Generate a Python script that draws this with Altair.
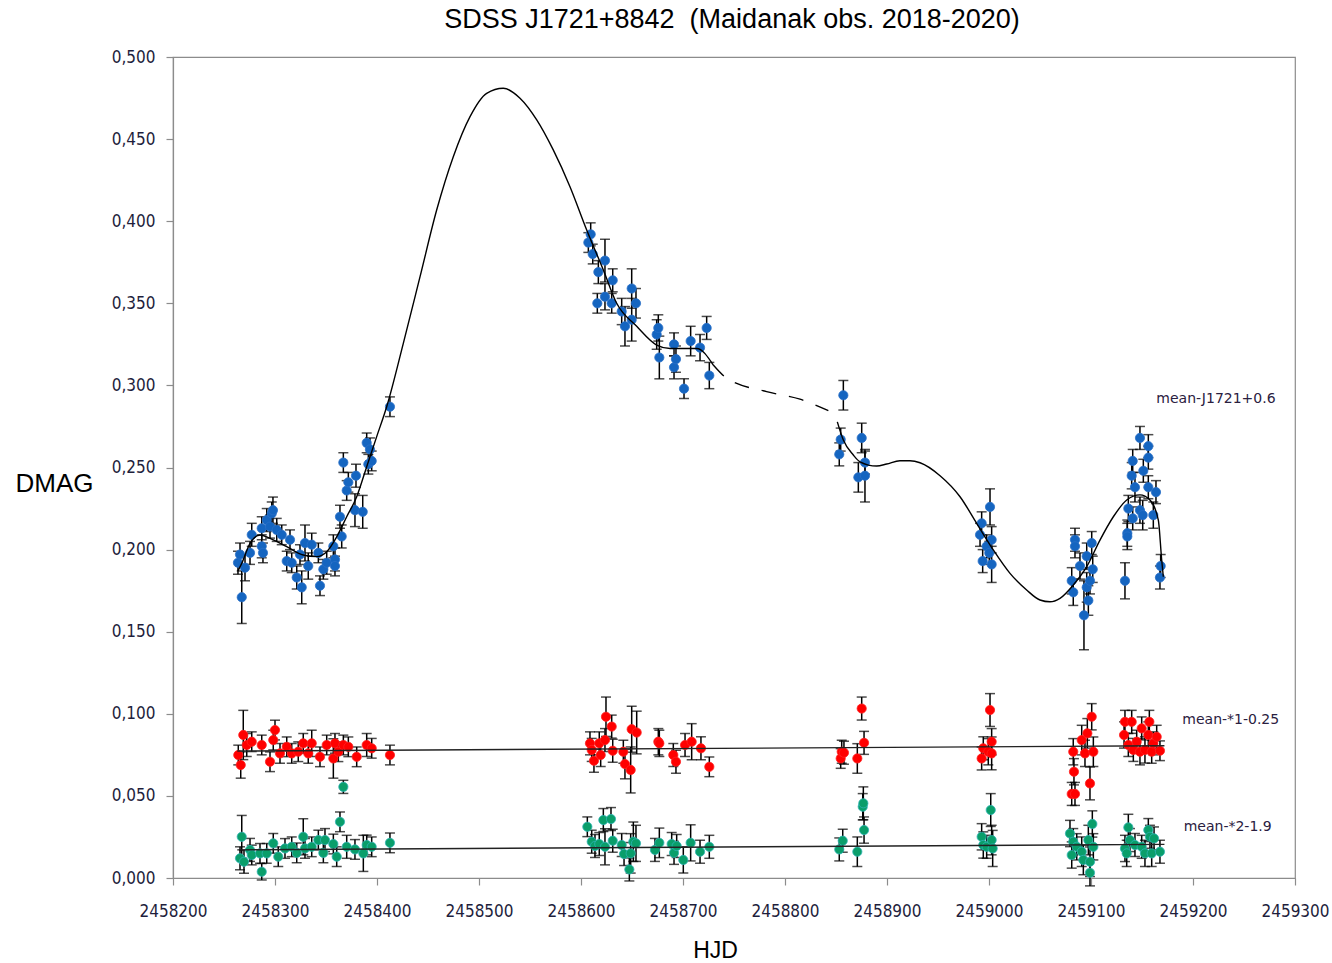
import altair as alt
import pandas as pd

BASE = 2458200  # HJD offset used by the day arrays below

# ---------------- main object (mean-J1721+0.6), blue ----------------
blue_day = [63.7, 65.7, 67.4, 70.6, 75.5, 77.2, 87.0, 87.0, 88.2, 91.9, 95.1, 96.8, 98.0, 101.7, 106.6,
            111.5, 114.7, 116.4, 121.3, 124.5, 126.2, 129.4, 132.6, 136.0, 142.5, 144.1, 147.4, 150.7,
            157.2, 158.8, 158.8, 163.7, 165.4, 167.0, 170.3, 171.9, 178.4, 179.4, 186.0, 189.9, 191.5,
            193.1, 194.8, 212.7,
            407.2, 409.5, 411.5, 416.0, 417.0, 423.5, 423.5, 430.1, 431.1, 439.9, 443.1, 449.7, 449.7,
            453.9, 474.2, 475.8, 476.8, 491.2, 491.2, 493.1, 501.0, 507.5, 516.7, 523.2, 525.8,
            653.2, 654.6, 657.2, 671.9, 675.2, 678.4, 678.4,
            791.2, 792.8, 793.8, 797.7, 800.3, 801.0, 802.6, 802.6,
            881.1, 882.6, 884.3, 884.3, 889.2, 893.1, 895.8, 895.8, 897.4, 899.0, 900.7, 901.7,
            933.3, 935.6, 935.6, 936.6, 939.9, 940.9, 940.9, 943.1, 948.0, 948.0, 950.7, 951.3, 956.2,
            956.2, 956.2, 961.1, 963.7, 967.6, 968.3]
blue_dmag = [0.192, 0.197, 0.171, 0.189, 0.198, 0.209, 0.202, 0.213, 0.198, 0.218, 0.214, 0.222, 0.224, 0.212, 0.209,
             0.193, 0.206, 0.192, 0.183, 0.197, 0.177, 0.204, 0.190, 0.203, 0.198, 0.178, 0.188, 0.192,
             0.202, 0.194, 0.190, 0.220, 0.208, 0.253, 0.236, 0.241, 0.224, 0.245, 0.223, 0.265, 0.252,
             0.261, 0.254, 0.287,
             0.387, 0.392, 0.380, 0.350, 0.369, 0.376, 0.354, 0.350, 0.364, 0.345, 0.336, 0.359, 0.340,
             0.350, 0.331, 0.335, 0.317, 0.325, 0.311, 0.316, 0.298, 0.327, 0.323, 0.335, 0.306,
             0.258, 0.267, 0.294, 0.244, 0.268, 0.253, 0.245,
             0.209, 0.216, 0.193, 0.202, 0.198, 0.226, 0.206, 0.191,
             0.181, 0.174, 0.206, 0.202, 0.190, 0.160, 0.196, 0.177, 0.169, 0.181, 0.204, 0.188,
             0.181, 0.210, 0.208, 0.225, 0.245, 0.254, 0.219, 0.238, 0.268, 0.224, 0.221, 0.248, 0.263,
             0.256, 0.238, 0.221, 0.235, 0.183, 0.190]
blue_err = [0.007, 0.007, 0.016, 0.008, 0.007, 0.007, 0.007, 0.007, 0.006, 0.007, 0.007, 0.007, 0.008, 0.007, 0.006,
            0.006, 0.006, 0.006, 0.007, 0.006, 0.010, 0.011, 0.008, 0.007, 0.006, 0.006, 0.006, 0.007,
            0.007, 0.007, 0.006, 0.007, 0.007, 0.006, 0.006, 0.006, 0.010, 0.007, 0.010, 0.006, 0.006,
            0.007, 0.006, 0.006,
            0.006, 0.007, 0.006, 0.006, 0.007, 0.013, 0.008, 0.006, 0.007, 0.008, 0.012, 0.012, 0.013,
            0.009, 0.009, 0.008, 0.013, 0.007, 0.007, 0.008, 0.006, 0.009, 0.008, 0.007, 0.008,
            0.007, 0.007, 0.009, 0.009, 0.009, 0.007, 0.016,
            0.007, 0.007, 0.007, 0.007, 0.007, 0.011, 0.008, 0.011,
            0.008, 0.008, 0.007, 0.007, 0.008, 0.021, 0.008, 0.009, 0.009, 0.008, 0.007, 0.008,
            0.011, 0.008, 0.008, 0.008, 0.008, 0.007, 0.007, 0.009, 0.007, 0.008, 0.009, 0.007, 0.007,
            0.007, 0.007, 0.008, 0.007, 0.007, 0.007]

# ---------------- comparison star 1 (mean-*1-0.25), red ----------------
red_day = [64.0, 66.4, 68.9, 72.3, 77.2, 87.0, 95.1, 98.3, 100.0, 104.9, 111.5, 116.4, 122.8, 127.7,
           132.6, 136.0, 144.1, 150.7, 157.2, 158.8, 162.1, 167.0, 171.9, 180.1, 189.9, 194.8, 212.7,
           408.8, 410.5, 412.7, 417.9, 419.3, 423.5, 424.5, 430.1, 431.1, 441.5, 443.1, 448.7, 449.7,
           454.6, 475.8, 476.8, 490.5, 493.1, 502.0, 508.5, 517.6, 525.8,
           654.6, 655.6, 657.8, 670.9, 675.2, 677.5,
           792.8, 794.4, 799.3, 801.0, 802.6, 802.6,
           881.1, 882.6, 883.3, 884.3, 890.9, 894.1, 896.4, 899.0, 900.7, 902.3,
           932.4, 933.3, 936.6, 939.9, 941.5, 944.8, 948.0, 949.7, 952.9, 956.2, 957.2, 959.5, 961.1,
           964.4, 967.6]
red_dmag = [0.0749, 0.0688, 0.0871, 0.0810, 0.0830, 0.0810, 0.0708, 0.0840, 0.0901, 0.0759, 0.0799, 0.0759, 0.0769, 0.0820,
            0.0759, 0.0820, 0.0738, 0.0810, 0.0728, 0.0820, 0.0769, 0.0810, 0.0799, 0.0738, 0.0810, 0.0790, 0.0749,
            0.0820, 0.0780, 0.0714, 0.0820, 0.0749, 0.0840, 0.0982, 0.0922, 0.0775, 0.0769, 0.0694, 0.0658, 0.0906,
            0.0886, 0.0830, 0.0820, 0.0749, 0.0708, 0.0810, 0.0830, 0.0790, 0.0677,
            0.0728, 0.0769, 0.0763, 0.0728, 0.1032, 0.0823,
            0.0728, 0.0790, 0.0769, 0.1023, 0.0830, 0.0759,
            0.0512, 0.0769, 0.0647, 0.0512, 0.0840, 0.0759, 0.0881, 0.0576, 0.0982, 0.0769,
            0.0871, 0.0951, 0.0810, 0.0951, 0.0780, 0.0830, 0.0769, 0.0911, 0.0780, 0.0871, 0.0951, 0.0769, 0.0820,
            0.0860, 0.0775]
red_err = [0.006, 0.008, 0.015, 0.007, 0.006, 0.006, 0.006, 0.006, 0.006, 0.006, 0.006, 0.006, 0.006, 0.006,
           0.006, 0.008, 0.006, 0.006, 0.012, 0.006, 0.006, 0.006, 0.006, 0.006, 0.007, 0.006, 0.006,
           0.007, 0.007, 0.007, 0.007, 0.007, 0.007, 0.012, 0.007, 0.007, 0.007, 0.009, 0.014, 0.014,
           0.013, 0.008, 0.008, 0.007, 0.007, 0.007, 0.011, 0.007, 0.006,
           0.006, 0.007, 0.007, 0.009, 0.007, 0.007,
           0.007, 0.007, 0.008, 0.010, 0.008, 0.010,
           0.007, 0.008, 0.008, 0.007, 0.009, 0.008, 0.009, 0.010, 0.008, 0.009,
           0.008, 0.007, 0.007, 0.007, 0.007, 0.007, 0.008, 0.007, 0.008, 0.008, 0.007, 0.007, 0.007,
           0.007, 0.006]

# ---------------- comparison star 2 (mean-*2-1.9), green ----------------
green_day = [65.7, 67.4, 69.6, 75.5, 77.2, 85.3, 87.0, 91.9, 98.3, 103.2, 109.8, 116.4, 121.3, 127.7,
             129.4, 136.0, 142.5, 147.4, 149.0, 157.2, 160.5, 163.7, 167.0, 170.3, 178.4, 186.6, 189.9,
             194.8, 212.7,
             406.2, 410.5, 413.7, 417.9, 421.9, 423.5, 429.4, 431.1, 439.9, 442.2, 447.4, 448.7, 451.3,
             453.9, 472.5, 476.8, 488.9, 491.2, 493.8, 500.3, 507.5, 516.7, 525.8,
             653.2, 656.6, 670.9, 676.2, 676.8, 677.5,
             792.8, 794.4, 797.7, 801.7, 802.6, 803.6,
             879.4, 881.1, 882.6, 886.0, 890.9, 892.5, 897.4, 899.0, 899.0, 901.3, 902.3,
             933.3, 935.0, 936.6, 938.2, 943.1, 949.7, 952.9, 956.2, 957.8, 959.5, 961.8, 967.6]
green_dmag = [0.0120, 0.0251, 0.0099, 0.0171, 0.0140, 0.0150, 0.0038, 0.0150, 0.0211, 0.0130, 0.0180, 0.0190, 0.0153, 0.0251,
              0.0180, 0.0190, 0.0231, 0.0153, 0.0231, 0.0207, 0.0130, 0.0342, 0.0555, 0.0190, 0.0174, 0.0150, 0.0201,
              0.0190, 0.0214,
              0.0312, 0.0221, 0.0195, 0.0207, 0.0353, 0.0190, 0.0359, 0.0227, 0.0201, 0.0146, 0.0052, 0.0150, 0.0221,
              0.0211, 0.0171, 0.0214, 0.0207, 0.0153, 0.0195, 0.0110, 0.0214, 0.0160, 0.0190,
              0.0174, 0.0227, 0.0160, 0.0434, 0.0455, 0.0292,
              0.0251, 0.0201, 0.0190, 0.0414, 0.0231, 0.0180,
              0.0271, 0.0140, 0.0221, 0.0190, 0.0160, 0.0110, 0.0231, 0.0099, 0.0032, 0.0329, 0.0190,
              0.0180, 0.0150, 0.0308, 0.0231, 0.0201, 0.0190, 0.0150, 0.0292, 0.0251, 0.0150, 0.0241, 0.0160]
green_err = [0.007, 0.013, 0.007, 0.007, 0.006, 0.006, 0.005, 0.006, 0.006, 0.006, 0.006, 0.006, 0.006, 0.011,
             0.006, 0.006, 0.006, 0.006, 0.007, 0.006, 0.006, 0.006, 0.004, 0.007, 0.006, 0.011, 0.006,
             0.006, 0.006,
             0.006, 0.007, 0.007, 0.007, 0.007, 0.011, 0.007, 0.007, 0.007, 0.007, 0.007, 0.012, 0.012,
             0.011, 0.007, 0.009, 0.007, 0.007, 0.007, 0.008, 0.011, 0.007, 0.007,
             0.007, 0.007, 0.009, 0.008, 0.010, 0.008,
             0.008, 0.008, 0.007, 0.010, 0.009, 0.011,
             0.008, 0.008, 0.008, 0.008, 0.009, 0.009, 0.009, 0.009, 0.008, 0.008, 0.008,
             0.008, 0.008, 0.008, 0.007, 0.007, 0.007, 0.008, 0.007, 0.007, 0.008, 0.007, 0.007]

# ---------------- fitted curve (solid / dashed / solid) ----------------
fit1_day = [63.7, 67.4, 75.5, 85.3, 95.1, 111.5, 127.7, 140.9, 150.7, 160.5, 170.3, 180.1, 189.9, 199.7,
            209.5, 225.8, 242.2, 258.5, 274.8, 291.2, 307.5, 323.8, 340.2, 356.6, 372.8, 389.2, 405.6,
            421.9, 435.0, 454.6, 474.2, 487.3, 513.4, 529.7]
fit1_dmag = [0.187, 0.1916, 0.2038, 0.2089, 0.2068, 0.2018, 0.1967, 0.1957, 0.1987, 0.2078, 0.2200, 0.2322, 0.2505, 0.2688,
             0.2870, 0.3256, 0.3662, 0.4068, 0.4393, 0.4637, 0.4779, 0.4810, 0.4749, 0.4617, 0.4434, 0.4210, 0.3946,
             0.3703, 0.3500, 0.3360, 0.3246, 0.3225, 0.3225, 0.3124]
fit2_day = [529.7, 542.8, 582.0, 614.7, 642.5]
fit2_dmag = [0.3124, 0.3044, 0.2962, 0.2916, 0.2846]
fit3_day = [651.3, 657.2, 667.0, 673.5, 689.9, 699.7, 712.7, 722.5, 732.4, 752.0, 771.6, 787.9, 804.2, 820.6,
            836.9, 850.0, 859.8, 869.6, 882.6, 895.8, 908.8, 921.9, 935.0, 948.0, 957.8, 966.0, 969.3, 970.9]
fit3_dmag = [0.2778, 0.2667, 0.2576, 0.2535, 0.2509, 0.2521, 0.2541, 0.2541, 0.2529, 0.2450, 0.2322, 0.2160, 0.1998, 0.1855,
             0.1754, 0.1693, 0.1682, 0.1703, 0.1784, 0.1896, 0.2058, 0.2200, 0.2302, 0.2333, 0.2302, 0.2180, 0.1937, 0.1835]

# mean lines of comparison stars
mean_day = [63.0, 972.0]
red_mean = [0.0773, 0.0805]
green_mean = [0.0171, 0.0205]

# series labels
label_text = ["mean-J1721+0.6", "mean-*1-0.25", "mean-*2-1.9"]
label_day = [1022.5, 1037.0, 1034.0]
label_dmag = [0.2917, 0.0962, 0.0310]

title_text = "SDSS J1721+8842\u00a0 (Maidanak obs. 2018-2020)"
x_ticks = [2458200, 2458300, 2458400, 2458500, 2458600, 2458700, 2458800, 2458900, 2459000, 2459100, 2459200, 2459300]
y_ticks = [0.0, 0.05, 0.10, 0.15, 0.20, 0.25, 0.30, 0.35, 0.40, 0.45, 0.50]

TICK_FONT = "DejaVu Sans Condensed, DejaVu Sans"
LABEL_FONT = "DejaVu Sans"
MAIN_FONT = "Liberation Sans, Arial"
W, H = 1122, 821


def pts(day, dmag, err):
    assert len(day) == len(dmag) == len(err)
    df = pd.DataFrame({"hjd": [BASE + d for d in day], "dmag": dmag, "err": err})
    df["lo"] = df["dmag"] - df["err"]
    df["hi"] = df["dmag"] + df["err"]
    return df


def line_df(day, vals):
    return pd.DataFrame({"hjd": [BASE + d for d in day], "dmag": vals})


X = alt.X("hjd:Q", scale=alt.Scale(domain=[2458200, 2459300], nice=False, zero=False),
          axis=alt.Axis(values=x_ticks, format="d", title="HJD", titleFontSize=23, titleFont=MAIN_FONT,
                        titleFontWeight="normal", titlePadding=20, labelPadding=18, labelOverlap=False,
                        labelFlush=False, titleX=542, titleAlign="center"))
Y = alt.Y("dmag:Q", scale=alt.Scale(domain=[0, 0.5], nice=False, zero=False),
          axis=alt.Axis(values=y_ticks, labelExpr="replace(format(datum.value, '.3f'), '.', ',')",
                        labelOverlap=False, labelFlush=False,
                        title="DMAG", titleAngle=0, titleX=-119, titleY=426, titleAlign="center",
                        titleBaseline="middle", titleFontSize=26, titleFont=MAIN_FONT,
                        titleFontWeight="normal", labelPadding=11))


def series_layers(df, color, stroke):
    bars = alt.Chart(df).mark_rule(color="black", strokeWidth=1.5).encode(
        x=alt.X("hjd:Q"), y=alt.Y("lo:Q"), y2="hi:Q")
    cap_lo = alt.Chart(df).mark_tick(orient="horizontal", color="black", size=10, thickness=1.5).encode(
        x=alt.X("hjd:Q"), y=alt.Y("lo:Q"))
    cap_hi = alt.Chart(df).mark_tick(orient="horizontal", color="black", size=10, thickness=1.5).encode(
        x=alt.X("hjd:Q"), y=alt.Y("hi:Q"))
    dots = alt.Chart(df).mark_point(filled=True, size=85, opacity=1, color=color,
                                    stroke=stroke, strokeWidth=0.8).encode(x=alt.X("hjd:Q"), y=alt.Y("dmag:Q"))
    return [bars, cap_lo, cap_hi, dots]


blue_df = pts(blue_day, blue_dmag, blue_err)
red_df = pts(red_day, red_dmag, red_err)
green_df = pts(green_day, green_dmag, green_err)

# axis-carrying base layer (invisible)
base = alt.Chart(line_df(fit1_day, fit1_dmag)).mark_line(opacity=0).encode(x=X, y=Y)

layers = [base]
layers += series_layers(red_df, "#ff0000", "#ff2020")
layers += series_layers(green_df, "#0a9e6a", "#2fb4b4")
layers += series_layers(blue_df, "#1565c0", "#2a70c8")

lw = 1.4
fit1 = alt.Chart(line_df(fit1_day, fit1_dmag)).mark_line(color="black", strokeWidth=lw, interpolate="monotone").encode(
    x="hjd:Q", y="dmag:Q")
fit2 = alt.Chart(line_df(fit2_day, fit2_dmag)).mark_line(color="black", strokeWidth=lw, interpolate="monotone",
                                                        strokeDash=[15, 13]).encode(x="hjd:Q", y="dmag:Q")
fit3 = alt.Chart(line_df(fit3_day, fit3_dmag)).mark_line(color="black", strokeWidth=lw, interpolate="monotone").encode(
    x="hjd:Q", y="dmag:Q")
rmean = alt.Chart(line_df(mean_day, red_mean)).mark_line(color="#222", strokeWidth=lw).encode(x="hjd:Q", y="dmag:Q")
gmean = alt.Chart(line_df(mean_day, green_mean)).mark_line(color="#222", strokeWidth=lw).encode(x="hjd:Q", y="dmag:Q")

labels = alt.Chart(pd.DataFrame({"hjd": [BASE + d for d in label_day], "dmag": label_dmag, "label": label_text})) \
    .mark_text(font=LABEL_FONT, fontSize=14, color="#2a2040", align="center", baseline="middle").encode(
    x="hjd:Q", y="dmag:Q", text="label:N")

title = alt.Chart(pd.DataFrame({"t": [title_text]})).mark_text(
    font=MAIN_FONT, fontSize=27, color="black", align="center", baseline="middle").encode(
    x=alt.value(W / 2 - 2), y=alt.value(-37), text="t:N")

layers += [fit1, fit2, fit3, rmean, gmean, labels, title]

chart = alt.layer(*layers).properties(
    width=W, height=H,
    padding={"left": 173, "top": 57, "right": 37, "bottom": 85},
    autosize=alt.AutoSizeParams(type="none"),
    background="white",
).configure_view(stroke="#8c8c8c", strokeWidth=1.2).configure_axis(
    grid=False, domainColor="#8c8c8c", domainWidth=1.2, tickColor="#8c8c8c", tickSize=7, tickWidth=1.2,
    labelFont=TICK_FONT, labelFontSize=17, labelColor="#1e1e3c", titleColor="black",
)

chart.save("out.html", embed_options={"renderer": "svg", "actions": False})
